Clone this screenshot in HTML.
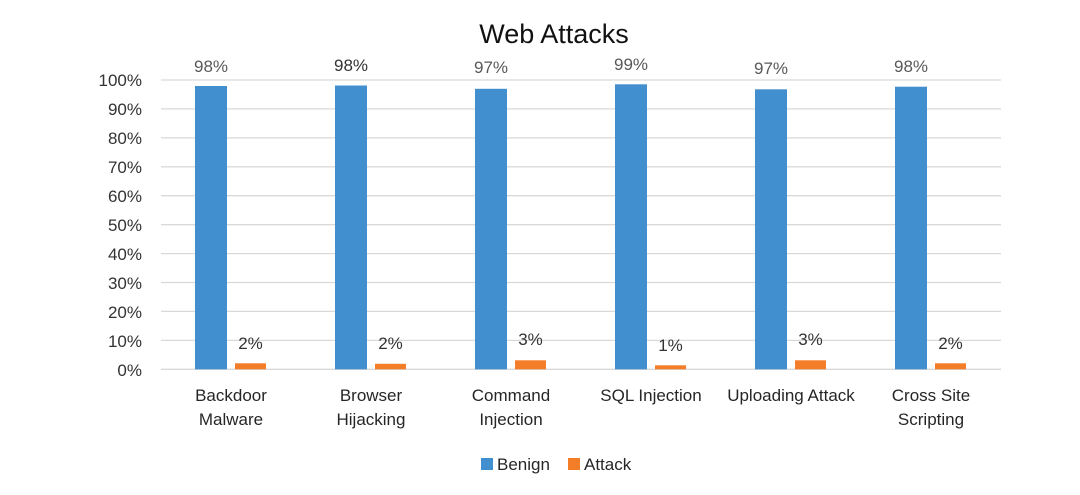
<!DOCTYPE html>
<html><head><meta charset="utf-8"><style>
html,body{margin:0;padding:0;background:#fff;}
svg{display:block;}
text{font-family:"Liberation Sans",sans-serif;}
</style></head><body>
<svg width="1080" height="495" viewBox="0 0 1080 495" xmlns="http://www.w3.org/2000/svg">
<rect width="1080" height="495" fill="#fff"/>
<text x="554" y="43" font-size="27" text-anchor="middle" fill="#111">Web Attacks</text>
<g stroke="#d9d9d9" stroke-width="1.3">
<line x1="161" x2="1001" y1="80" y2="80"/>
<line x1="161" x2="1001" y1="108.9" y2="108.9"/>
<line x1="161" x2="1001" y1="137.9" y2="137.9"/>
<line x1="161" x2="1001" y1="166.8" y2="166.8"/>
<line x1="161" x2="1001" y1="195.7" y2="195.7"/>
<line x1="161" x2="1001" y1="224.7" y2="224.7"/>
<line x1="161" x2="1001" y1="253.6" y2="253.6"/>
<line x1="161" x2="1001" y1="282.5" y2="282.5"/>
<line x1="161" x2="1001" y1="311.4" y2="311.4"/>
<line x1="161" x2="1001" y1="340.4" y2="340.4"/>
<line x1="161" x2="1001" y1="369.3" y2="369.3"/>
</g>
<g font-size="17" fill="#333" text-anchor="end">
<text x="142" y="86">100%</text>
<text x="142" y="115">90%</text>
<text x="142" y="144">80%</text>
<text x="142" y="173">70%</text>
<text x="142" y="202">60%</text>
<text x="142" y="231">50%</text>
<text x="142" y="260">40%</text>
<text x="142" y="289">30%</text>
<text x="142" y="318">20%</text>
<text x="142" y="347">10%</text>
<text x="142" y="376">0%</text>
</g>
<g fill="#428fd0">
<rect x="195" y="86" width="32" height="283.3"/>
<rect x="335" y="85.5" width="32" height="283.8"/>
<rect x="475" y="88.8" width="32" height="280.5"/>
<rect x="615" y="84.3" width="32" height="285"/>
<rect x="755" y="89.3" width="32" height="280"/>
<rect x="895" y="86.7" width="32" height="282.6"/>
</g>
<g fill="#f47d27">
<rect x="235" y="363.3" width="31" height="6"/>
<rect x="375" y="363.8" width="31" height="5.5"/>
<rect x="515" y="360.3" width="31" height="9"/>
<rect x="655" y="365.3" width="31" height="4"/>
<rect x="795" y="360.3" width="31" height="9"/>
<rect x="935" y="363.3" width="31" height="6"/>
</g>
<g font-size="17" fill="#595959" text-anchor="middle">
<text x="211" y="72">98%</text>
<text x="351" y="71" fill="#333">98%</text>
<text x="491" y="73">97%</text>
<text x="631" y="70">99%</text>
<text x="771" y="74">97%</text>
<text x="911" y="72">98%</text>
<text x="250.5" y="349" fill="#333">2%</text>
<text x="390.5" y="349" fill="#333">2%</text>
<text x="530.5" y="345" fill="#333">3%</text>
<text x="670.5" y="351" fill="#333">1%</text>
<text x="810.5" y="345" fill="#333">3%</text>
<text x="950.5" y="349" fill="#333">2%</text>
</g>
<g font-size="17" fill="#262626" text-anchor="middle">
<text x="231" y="401">Backdoor</text>
<text x="231" y="425">Malware</text>
<text x="371" y="401">Browser</text>
<text x="371" y="425">Hijacking</text>
<text x="511" y="401">Command</text>
<text x="511" y="425">Injection</text>
<text x="651" y="401">SQL Injection</text>
<text x="791" y="401">Uploading Attack</text>
<text x="931" y="401">Cross Site</text>
<text x="931" y="425">Scripting</text>
</g>
<rect x="481" y="458" width="12" height="12" fill="#428fd0"/>
<text x="497" y="470" font-size="17" fill="#262626">Benign</text>
<rect x="568" y="458" width="12" height="12" fill="#f47d27"/>
<text x="584" y="470" font-size="17" fill="#262626">Attack</text>
</svg>
</body></html>
